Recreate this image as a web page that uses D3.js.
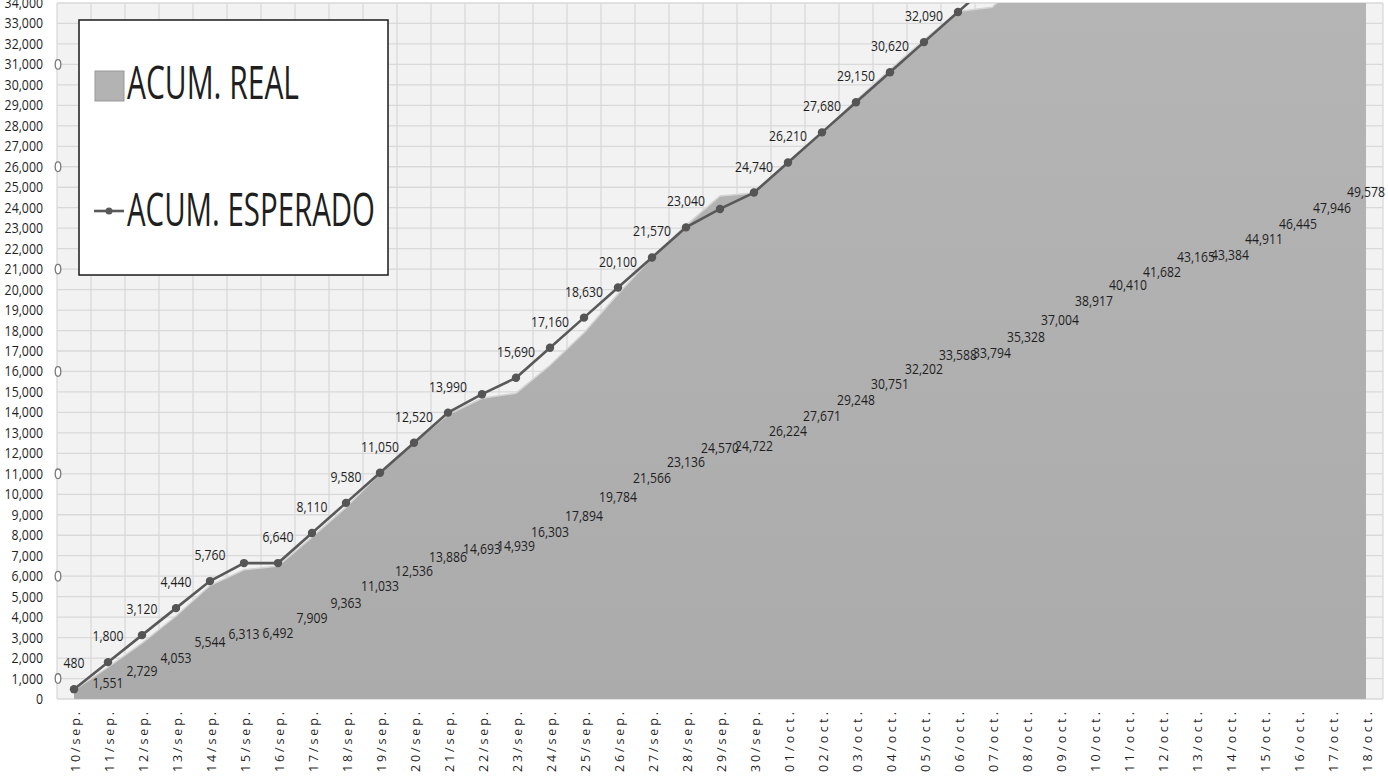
<!DOCTYPE html>
<html>
<head>
<meta charset="utf-8">
<script src="https://cdn.jsdelivr.net/npm/d3@7"></script>
<style>
  body { margin: 0; background: #fff; }
  svg { display: block; }
  text { font-family: 'Open Sans', sans-serif; fill: #1f1f1f; }
</style>
</head>
<body>
<svg width="1388" height="784"></svg>
<script>
// categories (days)
var dias = ['10/sep.','11/sep.','12/sep.','13/sep.','14/sep.','15/sep.','16/sep.','17/sep.','18/sep.','19/sep.',
  '20/sep.','21/sep.','22/sep.','23/sep.','24/sep.','25/sep.','26/sep.','27/sep.','28/sep.','29/sep.','30/sep.',
  '01/oct.','02/oct.','03/oct.','04/oct.','05/oct.','06/oct.','07/oct.','08/oct.','09/oct.','10/oct.','11/oct.',
  '12/oct.','13/oct.','14/oct.','15/oct.','16/oct.','17/oct.','18/oct.'];

// ACUM. REAL (area)
var acumReal = [430, 1551, 2729, 4053, 5544, 6313, 6492, 7909, 9363, 11033, 12536, 13886, 14693, 14939, 16303,
  17894, 19784, 21566, 23136, 24570, 24722, 26224, 27671, 29248, 30751, 32202, 33588, 33794, 35328, 37004,
  38917, 40410, 41682, 43165, 43384, 44911, 46445, 47946, 49578];

// ACUM. ESPERADO (line)
var acumEsperado = [480, 1800, 3120, 4440, 5760, 6640, 6640, 8110, 9580, 11050, 12520, 13990, 14890, 15690, 17160,
  18630, 20100, 21570, 23040, 23940, 24740, 26210, 27680, 29150, 30620, 32090, 33560, 35030, 36500, 37970,
  39440, 40910, 42380, 43280, 44080, 45550, 47020, 48490, 49960];

// labels that are not shown in the original
var sinEtiquetaReal = ['10/sep.'];
var sinEtiquetaEsperado = ['15/sep.', '22/sep.', '29/sep.'];

// little round handles on the left edge
var marcas = [1000, 6000, 11000, 16000, 21000, 26000, 31000];

var yTicks = d3.range(0, 34001, 1000);

var svg = d3.select('svg');
var fmt = d3.format(',');

var x = d3.scaleBand().domain(dias).range([57, 1383]);
var y = d3.scaleLinear().domain([0, 34000]).range([699, 3]);
var cx = function(d) { return x(d) + x.bandwidth() / 2; };

function narrow(sel, k) {
  sel.each(function() {
    var w = this.getComputedTextLength();
    d3.select(this).attr('textLength', w * k).attr('lengthAdjust', 'spacingAndGlyphs');
  });
}

svg.append('clipPath').attr('id', 'plot')
  .append('rect').attr('x', 57).attr('y', 3).attr('width', 1326).attr('height', 696);

var grad = svg.append('defs').append('linearGradient')
  .attr('id', 'gris').attr('x1', 0).attr('y1', 0).attr('x2', 0).attr('y2', 1);
grad.append('stop').attr('offset', '0%').attr('stop-color', '#b9b9b9');
grad.append('stop').attr('offset', '100%').attr('stop-color', '#ababab');

// plot background + grid
svg.append('rect')
  .attr('x', 57).attr('y', 3).attr('width', 1326).attr('height', 696)
  .attr('fill', '#f2f2f2');

svg.append('g').selectAll('line')
  .data(yTicks)
  .enter()
  .append('line')
    .attr('x1', 57).attr('x2', 1383)
    .attr('y1', function(d) { return y(d); })
    .attr('y2', function(d) { return y(d); })
    .attr('stroke', '#d9d9d9').attr('stroke-width', 1.3);

svg.append('g').selectAll('line')
  .data(dias.concat(['fin']))
  .enter()
  .append('line')
    .attr('x1', function(d, i) { return 57 + i * x.step(); })
    .attr('x2', function(d, i) { return 57 + i * x.step(); })
    .attr('y1', 3).attr('y2', 699)
    .attr('stroke', '#d9d9d9').attr('stroke-width', 1.3);

var plot = svg.append('g').attr('clip-path', 'url(#plot)');

// area
var area = d3.area()
  .x(function(d, i) { return cx(dias[i]); })
  .y0(y(0))
  .y1(function(d) { return y(d); });

plot.append('path')
  .datum(acumReal)
  .attr('d', area)
  .attr('fill', 'url(#gris)');

plot.append('path')
  .datum(acumReal)
  .attr('d', d3.line().x(function(d, i) { return cx(dias[i]); }).y(function(d) { return y(d); }))
  .attr('fill', 'none')
  .attr('stroke', '#d4d4d4')
  .attr('stroke-width', 1.5);

// line
plot.append('path')
  .datum(acumEsperado)
  .attr('d', d3.line().x(function(d, i) { return cx(dias[i]); }).y(function(d) { return y(d); }))
  .attr('fill', 'none')
  .attr('stroke', '#595959')
  .attr('stroke-width', 2.6);

plot.append('g').selectAll('circle')
  .data(acumEsperado)
  .enter()
  .append('circle')
    .attr('cx', function(d, i) { return cx(dias[i]); })
    .attr('cy', function(d) { return y(d); })
    .attr('r', 4.2)
    .attr('fill', '#555');

// data labels (only those that fit in the picture)
var realLbl = svg.append('g').selectAll('text')
  .data(acumReal.map(function(v, i) { return { dia: dias[i], v: v }; })
    .filter(function(d) { return sinEtiquetaReal.indexOf(d.dia) < 0; }))
  .enter()
  .append('text')
    .attr('x', function(d) { return cx(d.dia); })
    .attr('y', function(d) { return y(d.v / 2) + 5; })
    .attr('text-anchor', 'middle')
    .attr('font-size', 14.5)
    .text(function(d) { return fmt(d.v); });
narrow(realLbl, 0.84);

var espLbl = svg.append('g').selectAll('text')
  .data(acumEsperado.map(function(v, i) { return { dia: dias[i], v: v }; })
    .filter(function(d) { return sinEtiquetaEsperado.indexOf(d.dia) < 0 && y(d.v) - 33 > 0; }))
  .enter()
  .append('text')
    .attr('x', function(d) { return cx(d.dia); })
    .attr('y', function(d) { return y(d.v) - 21; })
    .attr('text-anchor', 'middle')
    .attr('font-size', 14.5)
    .text(function(d) { return fmt(d.v); });
narrow(espLbl, 0.84);

// y axis
var yAxis = svg.append('g')
  .attr('transform', 'translate(43,0)')
  .call(d3.axisLeft(y).tickValues(yTicks).tickSize(0).tickPadding(0).tickFormat(fmt));
yAxis.select('.domain').remove();
yAxis.selectAll('text')
  .attr('font-size', 14)
  .attr('font-family', "'Open Sans', sans-serif")
  .attr('fill', '#1f1f1f');
narrow(yAxis.selectAll('text'), 0.88);

// x axis labels (rotated)
svg.append('g').selectAll('text')
  .data(dias)
  .enter()
  .append('text')
    .attr('transform', function(d) { return 'translate(' + (cx(d) + 1) + ',712) rotate(-90)'; })
    .attr('dy', '0.36em')
    .attr('text-anchor', 'end')
    .attr('font-family', "'DejaVu Sans', sans-serif")
    .attr('font-size', 12.5)
    .attr('fill', '#111')
    .attr('textLength', 60)
    .attr('lengthAdjust', 'spacing')
    .text(function(d) { return d; });

// small handles on left edge
svg.append('g').selectAll('ellipse')
  .data(marcas)
  .enter()
  .append('ellipse')
    .attr('cx', 58)
    .attr('cy', function(d) { return y(d); })
    .attr('rx', 2.8).attr('ry', 4.8)
    .attr('fill', '#fff')
    .attr('stroke', '#7a7a7a')
    .attr('stroke-width', 1.3);

// legend
var leg = svg.append('g');
leg.append('rect')
  .attr('x', 79).attr('y', 20).attr('width', 309).attr('height', 255)
  .attr('fill', '#fff').attr('stroke', '#1a1a1a').attr('stroke-width', 1.5);
leg.append('rect')
  .attr('x', 95).attr('y', 71).attr('width', 29).attr('height', 30)
  .attr('fill', '#b3b3b3').attr('stroke', '#999').attr('stroke-width', 1);
leg.append('text')
  .attr('x', 127).attr('y', 99)
  .attr('font-size', 45)
  .attr('fill', '#0d0d0d')
  .attr('textLength', 172).attr('lengthAdjust', 'spacingAndGlyphs')
  .text('ACUM. REAL');
leg.append('line')
  .attr('x1', 94).attr('x2', 124).attr('y1', 211).attr('y2', 211)
  .attr('stroke', '#595959').attr('stroke-width', 2.6);
leg.append('circle')
  .attr('cx', 109).attr('cy', 211).attr('r', 3.5).attr('fill', '#595959');
leg.append('text')
  .attr('x', 127).attr('y', 226)
  .attr('font-size', 45)
  .attr('fill', '#0d0d0d')
  .attr('textLength', 248).attr('lengthAdjust', 'spacingAndGlyphs')
  .text('ACUM. ESPERADO');
</script>
</body>
</html>
